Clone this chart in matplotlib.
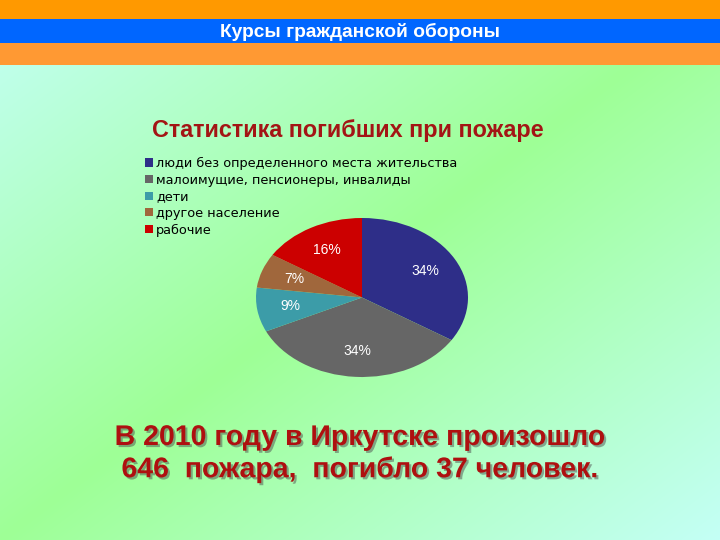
import numpy as np
import matplotlib
matplotlib.use("Agg")
import matplotlib.pyplot as plt
import matplotlib.patheffects as pe
from matplotlib.colors import to_rgb

# Data
categories = ['люди без определенного места жительства',
              'малоимущие, пенсионеры, инвалиды',
              'дети',
              'другое население',
              'рабочие']
shares = [34, 34, 9, 7, 16]
colors = ['#2E2E88', '#666666', '#3C9CA8', '#A0673C', '#CC0000']

header = 'Курсы гражданской обороны'
title = 'Статистика погибших при пожаре'
caption = ['В 2010 году в Иркутске произошло', '646  пожара,  погибло 37 человек.']

plt.rcParams['font.family'] = ['Liberation Sans', 'DejaVu Sans']

fig = plt.figure(figsize=(7.2, 5.4), dpi=100)

# Background gradient (diagonal: cyan - green - cyan)
bg = fig.add_axes([0, 0, 1, 1])
bg.set_axis_off()
W, H = 720, 540
xx, yy = np.meshgrid(np.linspace(0, 1, W), np.linspace(0, 1, H))
t = (xx + yy) / 2
w = np.clip(1 - np.abs(t - 0.5) / 0.5, 0, 1)[..., None]
cyan = np.array(to_rgb('#C4FFF6'))
green = np.array(to_rgb('#9EFF96'))
img = cyan * (1 - w) + green * w
bg.imshow(img, extent=[0, W, H, 0], aspect='auto')
bg.set_xlim(0, W)
bg.set_ylim(H, 0)

# Header bands
bg.add_patch(plt.Rectangle((0, 0), W, 19, color='#FF9900', lw=0))
bg.add_patch(plt.Rectangle((0, 19), W, 24, color='#0066FF', lw=0))
bg.add_patch(plt.Rectangle((0, 43), W, 22, color='#FF9933', lw=0))
bg.text(360, 32, header, color='white', fontsize=13.8, fontweight='bold',
        ha='center', va='center')

# Chart title
bg.text(152, 131, title, color='#A31515', fontsize=16.8, fontweight='bold',
        ha='left', va='center')

# Caption with shadow
shadow = [pe.SimplePatchShadow(offset=(1.5, -1.5), shadow_rgbFace='#505050', alpha=0.5),
          pe.Normal()]
for i, line in enumerate(caption):
    bg.text(360, 438 + 32 * i, line, color='#AE1010', fontsize=20.5, fontweight='bold',
            ha='center', va='center', path_effects=shadow)

# Pie (elliptical)
ax = fig.add_axes([256 / W, 1 - 377 / H, 212 / W, 159 / H])
wedges, texts, autotexts = ax.pie(shares, colors=colors, startangle=90, counterclock=False,
                                  autopct='%d%%', pctdistance=0.68, radius=1,
                                  textprops=dict(color='white', fontsize=10))
ax.set_aspect('auto')
ax.set_xlim(-1, 1)
ax.set_ylim(-1, 1)

fig.legend(wedges, categories, loc='upper left', bbox_to_anchor=(145 / W, 1 - 157 / H),
           frameon=False, handlelength=0.6, handleheight=0.6,
           handletextpad=0.25, labelspacing=0.28, borderpad=0, borderaxespad=0,
           prop={'family': ['DejaVu Sans'], 'size': 9.3})

fig.savefig('out.png', dpi=100)
